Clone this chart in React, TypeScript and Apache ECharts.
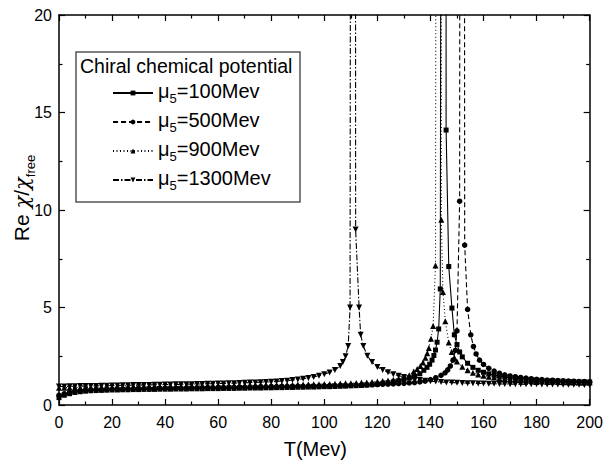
import React, { useEffect, useRef } from "react";
import * as echarts from "echarts";

// Temperature grid (MeV), step 2
const temps: number[] = Array.from({ length: 101 }, (_, i) => i * 2);

const seriesNames = ["μ5=100Mev", "μ5=500Mev", "μ5=900Mev", "μ5=1300Mev"];

// Re chi / chi_free on the grid (null = replaced by the near-peak samples)
const v100 = [
  0.38, 0.5, 0.58, 0.64, 0.68, 0.71, 0.73, 0.74, 0.75, 0.76,
  0.77, 0.77, 0.78, 0.78, 0.79, 0.79, 0.8, 0.8, 0.8, 0.81,
  0.81, 0.81, 0.82, 0.82, 0.82, 0.83, 0.83, 0.83, 0.84, 0.84,
  0.84, 0.85, 0.85, 0.85, 0.86, 0.86, 0.87, 0.87, 0.87, 0.88,
  0.88, 0.89, 0.89, 0.9, 0.9, 0.91, 0.91, 0.92, 0.92, 0.93,
  0.94, 0.94, 0.95, 0.96, 0.97, 0.98, 0.99, 1.0, 1.02, 1.04,
  1.07, 1.1, 1.14, 1.18, 1.24, 1.31, 1.38, 1.47, 1.6, null,
  null, null, null, null, null, 3.1, 2.47, 2.14, 1.93, 1.78,
  1.68, 1.6, 1.53, 1.48, 1.44, 1.4, 1.37, 1.34, 1.32, 1.3,
  1.28, 1.27, 1.25, 1.24, 1.23, 1.22, 1.21, 1.2, 1.19, 1.19,
  1.18,
];
const peak100T = [137.5, 138.7, 139.7, 140.6, 141.3, 141.9, 142.5, 143.1, 143.7, 144.5, 145.8, 145.9, 146.9, 148.1, 149, 151];
const peak100V = [1.78, 1.93, 2.09, 2.3, 2.54, 2.82, 3.22, 3.9, 5.95, 80, 80, 14.1, 7.1, 4.97, 3.6, 2.72];

const v500 = [
  0.5, 0.58, 0.64, 0.69, 0.72, 0.75, 0.77, 0.78, 0.79, 0.8,
  0.81, 0.81, 0.82, 0.82, 0.83, 0.83, 0.84, 0.84, 0.85, 0.85,
  0.86, 0.86, 0.87, 0.87, 0.87, 0.88, 0.88, 0.89, 0.89, 0.89,
  0.9, 0.9, 0.91, 0.91, 0.91, 0.92, 0.92, 0.93, 0.93, 0.93,
  0.94, 0.94, 0.95, 0.95, 0.95, 0.96, 0.96, 0.97, 0.97, 0.98,
  0.98, 0.99, 0.99, 1.0, 1.0, 1.01, 1.02, 1.02, 1.03, 1.04,
  1.05, 1.06, 1.07, 1.08, 1.1, 1.11, 1.13, 1.15, 1.18, 1.23,
  1.3, 1.4, 1.52, null, null, null, null, null, null, null,
  2.08, 1.88, 1.74, 1.63, 1.55, 1.49, 1.45, 1.41, 1.38, 1.35,
  1.32, 1.3, 1.28, 1.27, 1.25, 1.24, 1.23, 1.22, 1.21, 1.2,
  1.19,
];
const peak500T = [145.5, 146.5, 147.5, 148.5, 149.4, 150, 151, 151.3, 152.6, 152.9, 154, 155.2, 156.2, 157.2, 158.5];
const peak500V = [1.65, 1.8, 2.0, 2.3, 2.8, 3.8, 10.45, 80, 80, 8.2, 4.9, 3.6, 3.0, 2.62, 2.3];

const v900 = [
  0.88, 0.89, 0.89, 0.9, 0.9, 0.9, 0.91, 0.91, 0.91, 0.92,
  0.92, 0.92, 0.93, 0.93, 0.93, 0.94, 0.94, 0.94, 0.95, 0.95,
  0.95, 0.96, 0.96, 0.96, 0.97, 0.97, 0.97, 0.98, 0.98, 0.98,
  0.99, 0.99, 0.99, 1.0, 1.0, 1.0, 1.01, 1.01, 1.02, 1.02,
  1.02, 1.03, 1.03, 1.04, 1.04, 1.05, 1.05, 1.06, 1.06, 1.07,
  1.08, 1.08, 1.09, 1.1, 1.11, 1.12, 1.13, 1.15, 1.16, 1.18,
  1.2, 1.23, 1.26, 1.3, 1.35, 1.42, 1.52, null, null, null,
  null, null, null, null, null, 2.23, 1.96, 1.78, 1.66, 1.57,
  1.5, 1.45, 1.41, 1.37, 1.34, 1.32, 1.3, 1.28, 1.26, 1.24,
  1.23, 1.22, 1.21, 1.2, 1.19, 1.18, 1.17, 1.17, 1.16, 1.16,
  1.15,
];
const peak900T = [133.7, 135, 136.2, 137.2, 138.1, 138.8, 139.4, 140.2, 141, 141.9, 142.5, 143.7, 144.1, 144.7, 145.6, 146.9, 148, 149];
const peak900V = [1.72, 1.85, 2.0, 2.18, 2.42, 2.65, 2.92, 3.4, 4.05, 7.16, 80, 80, 9.5, 5.8, 4.3, 3.2, 2.72, 2.43];

const v1300 = [
  0.95, 0.95, 0.96, 0.96, 0.97, 0.97, 0.98, 0.98, 0.99, 0.99,
  1.0, 1.0, 1.01, 1.01, 1.02, 1.02, 1.03, 1.03, 1.04, 1.04,
  1.05, 1.05, 1.06, 1.06, 1.07, 1.07, 1.08, 1.08, 1.09, 1.09,
  1.1, 1.1, 1.11, 1.12, 1.13, 1.14, 1.15, 1.16, 1.17, 1.18,
  1.19, 1.21, 1.23, 1.25, 1.28, 1.31, 1.35, 1.39, 1.44, 1.5,
  1.58, 1.67, 1.8, 2.0, 2.5, null, null, null, null, 2.2,
  1.95, 1.8, 1.68, 1.58, 1.5, 1.43, 1.37, 1.32, 1.28, 1.25,
  1.22, 1.2, 1.18, 1.16, 1.15, 1.14, 1.13, 1.12, 1.11, 1.1,
  1.1, 1.09, 1.09, 1.08, 1.08, 1.07, 1.07, 1.07, 1.06, 1.06,
  1.06, 1.05, 1.05, 1.05, 1.05, 1.04, 1.04, 1.04, 1.04, 1.03,
  1.03,
];
const peak1300T = [107, 109, 109.7, 110.2, 111.6, 111.8, 113.1, 113.7, 114.7, 116.2];
const peak1300V = [2.2, 3.03, 5.0, 80, 80, 9.0, 5.0, 3.6, 3.03, 2.52];

const xTicks = { min: 0, max: 200, interval: 20 };
const yTicks = { min: 0, max: 20, interval: 5 };

function buildPairs(vals: (number | null)[], pt: number[], pv: number[]) {
  const pts: number[][] = [];
  temps.forEach((t, i) => {
    const v = vals[i];
    if (v != null) pts.push([t, v]);
  });
  pt.forEach((t, i) => pts.push([t, pv[i]]));
  pts.sort((a, b) => a[0] - b[0]);
  return pts;
}

const FONT = "Liberation Sans, Arial, sans-serif";

export default function App() {
  const ref = useRef<HTMLDivElement>(null);
  useEffect(() => {
    if (!ref.current) return;
    const chart = echarts.init(ref.current, undefined, { renderer: "svg" });
    const black = "#000";
    const axisCommon = {
      type: "value" as const,
      splitLine: { show: false },
      axisLine: { show: true, onZero: false, lineStyle: { color: black, width: 1.5 } },
      axisTick: { show: true, inside: true, length: 6, lineStyle: { color: black, width: 1.2 } },
      minorTick: { show: true, splitNumber: 2, length: 3.5, lineStyle: { color: black, width: 1.2 } },
    };
    const mk = (
      name: string,
      data: number[][],
      symbol: string,
      size: number,
      dash: any,
      rotate = 0
    ) => ({
      type: "line",
      name,
      data,
      symbol,
      symbolSize: size,
      symbolRotate: rotate,
      showSymbol: true,
      clip: true,
      lineStyle: { color: black, width: 1.1, type: dash },
      itemStyle: { color: black },
      xAxisIndex: 0,
      yAxisIndex: 0,
    });
    const subRich = {
      m: { fontSize: 20, fontFamily: FONT, color: black, lineHeight: 24, verticalAlign: "top" },
      s: { fontSize: 13, fontFamily: FONT, color: black, lineHeight: 24, verticalAlign: "bottom" },
      t: { fontSize: 20, fontFamily: FONT, color: black, lineHeight: 24, verticalAlign: "top" },
    };
    chart.setOption({
      animation: false,
      backgroundColor: "#fff",
      grid: { left: 59, right: 12, top: 15, bottom: 62, containLabel: false },
      xAxis: [
        {
          ...axisCommon,
          ...xTicks,
          position: "bottom",
          axisLabel: { color: black, fontSize: 16, fontFamily: FONT, margin: 9 },
          name: "T(Mev)",
          nameLocation: "middle",
          nameGap: 34,
          nameTextStyle: { color: black, fontSize: 20, fontFamily: FONT, padding: [0, 18, 0, 0] },
        },
        {
          ...axisCommon,
          ...xTicks,
          position: "top",
          axisLabel: { show: false },
        },
      ],
      yAxis: [
        {
          ...axisCommon,
          ...yTicks,
          position: "left",
          axisLabel: { color: black, fontSize: 16, fontFamily: FONT, margin: 7 },
        },
        {
          ...axisCommon,
          ...yTicks,
          position: "right",
          axisLabel: { show: false },
        },
      ],
      legend: {
        orient: "vertical",
        left: 112,
        top: 81,
        padding: 0,
        itemWidth: 40,
        itemHeight: 6,
        itemGap: 5,
        data: seriesNames,
        formatter: (name: string) => `{m|μ}{s|5}{t|${name.slice(2)}}`,
        textStyle: { color: black, fontSize: 20, fontFamily: FONT, rich: subRich },
      },
      graphic: [
        {
          type: "rect",
          shape: { x: 76, y: 52, width: 224, height: 150 },
          style: { fill: "#fff", stroke: "#555", lineWidth: 1.5 },
          z: 1,
        },
        {
          type: "text",
          x: 80,
          y: 66,
          z: 2,
          style: {
            text: "Chiral chemical potential",
            fontSize: 19.5,
            fontFamily: FONT,
            fill: black,
            verticalAlign: "middle",
            align: "left",
          },
        },
        {
          type: "text",
          x: 24,
          y: 198,
          rotation: Math.PI / 2,
          z: 2,
          style: {
            text: "{r|Re }{c|χ}{r|/}{c|χ}{s|free}",
            align: "center",
            verticalAlign: "middle",
            fill: black,
            rich: {
              r: { fontSize: 21, fontFamily: FONT, fill: black, lineHeight: 26, verticalAlign: "top" },
              c: { fontSize: 21, fontFamily: "DejaVu Serif, serif", fontStyle: "italic", fill: black, lineHeight: 26, verticalAlign: "top" },
              s: { fontSize: 13, fontFamily: FONT, fill: black, lineHeight: 26, verticalAlign: "bottom" },
            },
          },
        },
      ],
      series: [
        mk(seriesNames[0], buildPairs(v100, peak100T, peak100V), "rect", 5, "solid"),
        mk(seriesNames[1], buildPairs(v500, peak500T, peak500V), "circle", 5.5, [5, 3]),
        mk(seriesNames[2], buildPairs(v900, peak900T, peak900V), "triangle", 6, [1, 2.5]),
        mk(seriesNames[3], buildPairs(v1300, peak1300T, peak1300V), "triangle", 6, [6, 2, 1.5, 2], 180),
      ],
    });
    return () => chart.dispose();
  }, []);
  return (
    <div
      ref={ref}
      style={{ position: "fixed", left: 0, top: 0, width: 606, height: 467, background: "#fff" }}
    />
  );
}
